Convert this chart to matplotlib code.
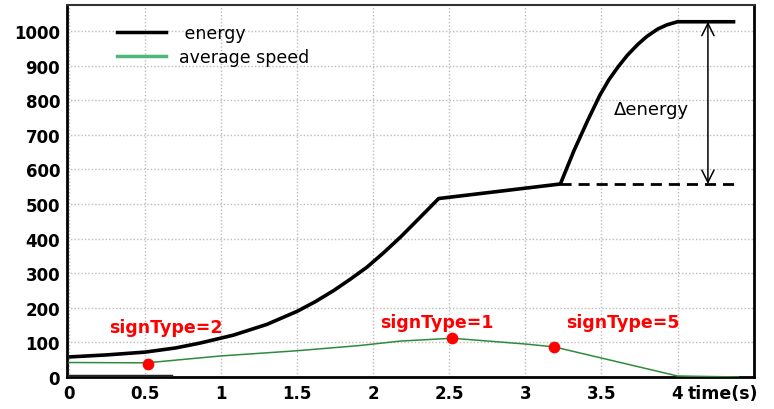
import matplotlib
matplotlib.use("Agg")
import matplotlib.pyplot as plt
from matplotlib.lines import Line2D
from matplotlib.transforms import blended_transform_factory

# energy curve (time s, energy)
energy_t = [0, 0.25, 0.5, 0.7, 0.86, 1.08, 1.30, 1.50, 1.62, 1.74, 1.85, 1.96, 2.07, 2.18, 2.30, 2.43,
            3.23, 3.28, 3.32, 3.41, 3.49, 3.55, 3.61, 3.67, 3.74, 3.80, 3.87, 3.93, 4.0, 4.38]
energy_v = [58, 64, 72, 84, 98, 121, 152, 190, 218, 250, 283, 318, 360, 405, 458, 516,
            558, 612, 655, 742, 815, 860, 897, 930, 962, 985, 1006, 1018, 1027, 1027]

# average speed curve
speed_t = [0, 0.51, 1.0, 1.5, 1.91, 2.18, 2.52, 2.84, 3.01, 3.19, 4.0, 4.4]
speed_v = [42, 41, 61, 76, 91, 104, 112, 101, 95, 87, 3, 0]

# sign markers
sign_t = [0.52, 2.52, 3.19]
sign_v = [38, 113, 87]
sign_labels = ["signType=2", "signType=1", "signType=5"]
sign_label_pos = [(0.64, 145), (2.42, 160), (3.64, 160)]

x_ticks = [0, 0.5, 1, 1.5, 2, 2.5, 3, 3.5, 4]
x_labels = ["0", "0.5", "1", "1.5", "2", "2.5", "3", "3.5", "4"]
y_ticks = list(range(0, 1001, 100))

delta_low = 558
delta_high = 1027

fig = plt.figure(figsize=(7.74, 4.10), dpi=100)
ax = fig.add_axes([0.0866, 0.078, 0.887, 0.907])

ax.plot(energy_t, energy_v, color="black", lw=2.6, solid_joinstyle="round",
        solid_capstyle="butt", zorder=4)
ax.plot(speed_t, speed_v, color="#2e8b3e", lw=1.1, zorder=3)
ax.plot([0, 0.67], [2, 2], color="#222222", lw=2.5, zorder=3)
ax.scatter(sign_t, sign_v, color="red", s=55, zorder=5)

for lab, (tx, ty) in zip(sign_labels, sign_label_pos):
    ax.text(tx, ty, lab, color="red", fontsize=12.5, fontweight="bold",
            ha="center", va="center")

# delta energy marker
ax.plot([3.23, 4.38], [delta_low, delta_low], color="black", lw=2, ls=(0, (4, 2.5)), zorder=4)
ax.annotate("", xy=(4.2, delta_high), xytext=(4.2, delta_low),
            arrowprops=dict(arrowstyle="<->", color="black", lw=1.1,
                            mutation_scale=22, shrinkA=0, shrinkB=0))
ax.text(3.83, 775, "\u0394energy", fontsize=13, ha="center", va="center")

ax.set_xlim(-0.013, 4.5)
ax.set_ylim(0, 1075)
ax.set_xticks(x_ticks)
ax.set_xticklabels(x_labels)
ax.set_yticks(y_ticks)
ax.tick_params(length=0, labelsize=12, pad=5)
for lbl in ax.get_xticklabels() + ax.get_yticklabels():
    lbl.set_fontweight("semibold")
ax.grid(True, color="#bbbbbb", ls=(0, (1, 1.5)), lw=1)

for side in ["left", "bottom", "right"]:
    ax.spines[side].set_linewidth(2)
ax.spines["top"].set_linewidth(1.5)
ax.spines["top"].set_color("#333333")

trans = blended_transform_factory(ax.transData, ax.transAxes)
ax.text(4.07, -0.02, "time(s)", transform=trans, fontsize=12.5, fontweight="semibold",
        ha="left", va="top")

handles = [Line2D([], [], color="black", lw=2.5),
           Line2D([], [], color="#4cb87a", lw=2.5)]
ax.legend(handles, [" energy", "average speed"], loc="upper left",
          bbox_to_anchor=(0.05, 0.99), frameon=False, fontsize=12.5,
          handlelength=2.8, labelspacing=0.3)

plt.savefig("out.png", dpi=100)
plt.close()
